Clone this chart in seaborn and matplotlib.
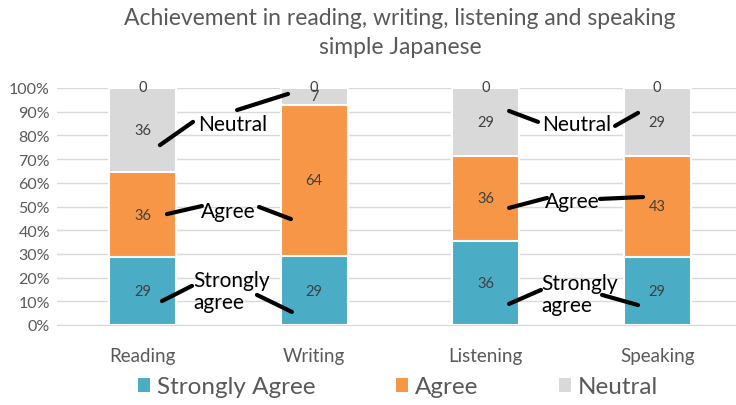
import numpy as np
import pandas as pd
import matplotlib
matplotlib.use("Agg")
import matplotlib.pyplot as plt
from matplotlib.patches import Patch
import seaborn as sns

# data
skills = ["Reading", "Writing", "Listening", "Speaking"]
strongly_agree = [29, 29, 36, 29]
agree = [36, 64, 36, 43]
neutral = [36, 7, 29, 29]
disagree = [0, 0, 0, 0]

series_names = ["Strongly Agree", "Agree", "Neutral"]
colors = ["#4BACC6", "#F79646", "#D9D9D9"]

sns.set_style("white")
plt.rcParams["font.family"] = ["Lato", "DejaVu Sans"]

df = pd.DataFrame({"skill": skills, "Strongly Agree": strongly_agree,
                   "Agree": agree, "Neutral": neutral, "Disagree": disagree})
total = df[["Strongly Agree", "Agree", "Neutral", "Disagree"]].sum(axis=1)
pct = df[["Strongly Agree", "Agree", "Neutral", "Disagree"]].div(total, axis=0) * 100
cum = pct.cumsum(axis=1)

fig = plt.figure(figsize=(7.36, 4.06), dpi=100)
ax = fig.add_axes([57 / 736, 80 / 406, 686 / 736, 237 / 406])

# stacked bars: draw the tallest cumulative first, then overlay
for name, col in zip(reversed(series_names), reversed(colors)):
    sns.barplot(x=df["skill"], y=cum[name], color=col, width=0.39,
                edgecolor="white", linewidth=1.5, saturation=1, ax=ax, zorder=2)

# value labels
for i in range(len(skills)):
    bottom = 0
    for name in ["Strongly Agree", "Agree", "Neutral"]:
        h = pct.loc[i, name]
        ax.text(i, bottom + h / 2, str(df.loc[i, name]), ha="center", va="center",
                fontsize=10.5, color="#404040", zorder=4)
        bottom += h
    ax.text(i, bottom + 0.5, str(df.loc[i, "Disagree"]), ha="center", va="center",
            fontsize=10.5, color="#404040", zorder=4)

ax.set_ylim(0, 100)
ax.set_xlim(-0.5, 3.5)
ax.set_yticks(np.arange(0, 101, 10))
ax.set_yticklabels([f"{v}%" for v in range(0, 101, 10)])
ax.yaxis.grid(True, color="#D9D9D9", linewidth=1, zorder=0)
ax.set_axisbelow(True)
ax.set_xlabel("")
ax.set_ylabel("")
for s in ["top", "right", "left"]:
    ax.spines[s].set_visible(False)
ax.spines["bottom"].set_color("#D9D9D9")
ax.tick_params(axis="y", length=0, labelsize=11.5, labelcolor="#595959", pad=5)
ax.tick_params(axis="x", length=0, labelsize=13.5, labelcolor="#595959", pad=16)
ax.set_xticks([-0.5, 0.5, 1.5, 2.5, 3.5], minor=True)
ax.tick_params(axis="x", which="minor", length=5, color="#D9D9D9", width=1)

fig.suptitle("Achievement in reading, writing, listening and speaking\nsimple Japanese",
             x=400 / 736, y=0.98, fontsize=16.5, color="#595959", linespacing=1.45)

# hand-drawn callouts
line_kw = dict(color="black", lw=3, solid_capstyle="round", zorder=5)
callouts = [
    ((0.10, 75.9), (0.293, 85.7)), ((0.55, 90.7), (0.847, 97.5)),
    ((0.141, 46.8), (0.345, 50.2)), ((0.678, 49.8), (0.864, 44.7)),
    ((0.112, 10.1), (0.287, 16.5)), ((0.666, 12.7), (0.870, 5.5)),
    ((2.136, 90.3), (2.305, 85.7)), ((2.754, 84.0), (2.888, 89.5)),
    ((2.136, 49.4), (2.357, 53.6)), ((2.666, 53.2), (2.917, 54.0)),
    ((2.136, 8.9), (2.322, 14.8)), ((2.678, 12.7), (2.888, 8.4)),
]
for (x0, y0), (x1, y1) in callouts:
    ax.plot([x0, x1], [y0, y1], **line_kw)

txt_kw = dict(fontsize=15, color="black", zorder=6)
ax.text(0.527, 84.8, "Neutral", ha="center", va="center", **txt_kw)
ax.text(0.497, 48.1, "Agree", ha="center", va="center", **txt_kw)
ax.text(0.293, 14.3, "Strongly\nagree", ha="left", va="center", linespacing=1.15, **txt_kw)
ax.text(2.532, 84.8, "Neutral", ha="center", va="center", **txt_kw)
ax.text(2.503, 52.3, "Agree", ha="center", va="center", **txt_kw)
ax.text(2.322, 13.1, "Strongly\nagree", ha="left", va="center", linespacing=1.15, **txt_kw)

handles = [Patch(facecolor=c, edgecolor="none") for c in colors]
fig.legend(handles, series_names, loc="center", bbox_to_anchor=(398 / 736, 1 - 388 / 406),
           ncol=3, frameon=False, fontsize=17.5, handlelength=0.5, handleheight=0.5,
           handletextpad=0.3, columnspacing=3.3, labelcolor="#595959")

fig.savefig("out.png", dpi=100)
